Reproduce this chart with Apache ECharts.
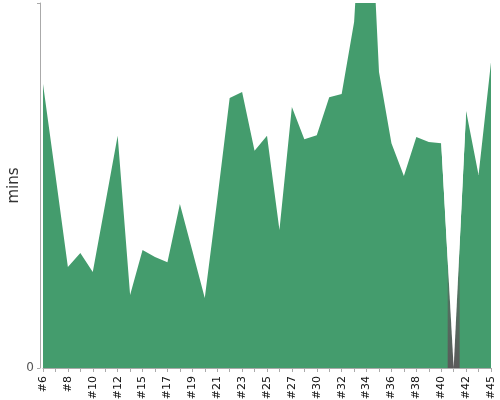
<!DOCTYPE html>
<html>
<head>
<meta charset="utf-8">
<script src="https://cdn.jsdelivr.net/npm/echarts@6/dist/echarts.min.js"></script>
<style>html,body{margin:0;padding:0;background:#fff}#c{width:500px;height:400px}</style>
</head>
<body>
<div id="c"></div>
<script>
const categories = ['#6','#7','#8','#9','#10','#11','#12','#13','#15','#16','#17','#18','#19','#20','#21','#22','#23','#24','#25','#26','#27','#28','#30','#31','#32','#33','#34','#35','#36','#37','#38','#39','#40','#41','#42','#43','#45'];
const mins = [77.8,52.9,27.7,31.5,26.3,44.9,63.6,20.0,32.3,30.4,29.0,44.9,32.1,19.2,46.0,74.0,75.6,59.5,63.6,37.8,71.5,62.7,63.8,74.2,75.1,94.8,152.3,81.1,61.6,52.6,63.3,61.9,61.6,0,70.4,52.9,83.8];
const gapMarker = {'#41': 38};
const yTicks = [0];
const yMax = 100;

const gapIdx = categories.indexOf('#41');
const gapData = categories.map(c => (c in gapMarker) ? gapMarker[c] : null);
const maskData = mins.map((v, i) => Math.abs(i - gapIdx) <= 1 ? v : null);

const chart = echarts.init(document.getElementById('c'), null, {renderer: 'canvas'});
chart.setOption({
  animation: false,
  backgroundColor: '#fff',
  grid: {left: 43, right: 9, top: 3, bottom: 32, containLabel: false, outerBoundsMode: 'none'},
  xAxis: {
    type: 'category',
    data: categories,
    boundaryGap: false,
    offset: 4,
    axisLine: {show: true, lineStyle: {color: '#aaa', width: 1}},
    axisTick: {show: true, interval: 0, length: 4, lineStyle: {color: '#aaa'}},
    axisLabel: {interval: 1, rotate: 90, margin: 4, fontSize: 11, color: '#111', fontFamily: 'DejaVu Sans'},
    splitLine: {show: false}
  },
  yAxis: {
    type: 'value',
    min: 0,
    max: yMax,
    interval: yMax,
    offset: 3,
    name: 'mins',
    nameLocation: 'middle',
    nameRotate: 90,
    nameGap: 18,
    nameMoveOverlap: false,
    nameTextStyle: {fontSize: 15, color: '#333', fontFamily: 'DejaVu Sans'},
    axisLine: {show: true, lineStyle: {color: '#aaa', width: 1}},
    axisTick: {show: true, length: 3, lineStyle: {color: '#aaa'}},
    axisLabel: {fontSize: 12, color: '#555', fontFamily: 'DejaVu Sans', margin: 6,
      formatter: v => yTicks.includes(v) ? String(v) : ''},
    splitLine: {show: false}
  },
  series: [
    {
      type: 'line',
      data: mins,
      symbol: 'none',
      z: 2,
      lineStyle: {width: 0},
      areaStyle: {color: '#449c6d', opacity: 1}
    },
    {
      type: 'bar',
      data: gapData,
      barWidth: 12,
      z: 3,
      itemStyle: {color: new echarts.graphic.LinearGradient(0, 0, 0, 1, [
        {offset: 0, color: 'rgba(90,90,90,0)'},
        {offset: 0.45, color: 'rgba(90,90,90,0.6)'},
        {offset: 1, color: 'rgba(90,90,90,1)'}
      ])}
    },
    {
      type: 'line',
      data: maskData,
      symbol: 'none',
      z: 4,
      lineStyle: {width: 0},
      areaStyle: {color: '#fff', opacity: 1, origin: 'end'}
    }
  ]
});
</script>
</body>
</html>
